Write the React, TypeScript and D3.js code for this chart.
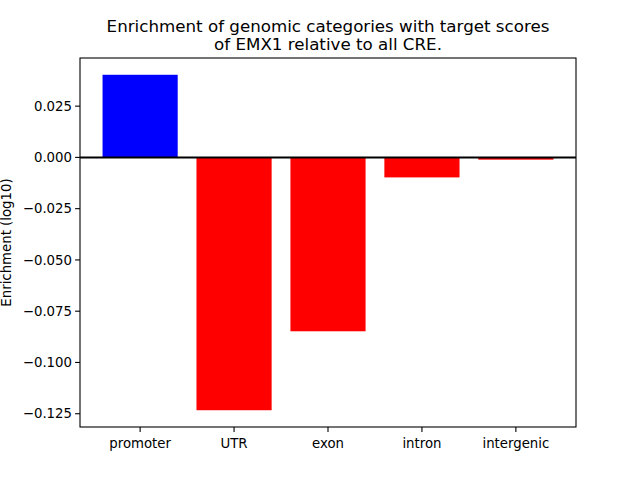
import React from "react";
import * as d3 from "d3";

const categories = ["promoter", "UTR", "exon", "intron", "intergenic"];
const values = [0.0403, -0.1233, -0.0848, -0.00975, -0.0011];
const yTicks = [0.025, 0.0, -0.025, -0.05, -0.075, -0.1, -0.125];
const titleLines = ["Enrichment of genomic categories with target scores", "of EMX1 relative to all CRE."];
const yLabel = "Enrichment (log10)";

export default function App() {
  const W = 640, H = 480;
  const left = 80, right = 576, top = 58, bottom = 427;
  const x = d3.scaleLinear().domain([-0.64, 4.64]).range([left, right]);
  const ymin = d3.min(values)!, ymax = d3.max(values)!;
  const pad = (ymax - ymin) * 0.05;
  const y = d3.scaleLinear().domain([ymin - pad, ymax + pad]).range([bottom, top]);
  const bw = 0.8;
  const font = "DejaVu Sans";
  const fmt = (v: number) => {
    const s = v.toFixed(3);
    return v < -1e-9 ? "\u2212" + s.slice(1) : Math.abs(v) < 1e-9 ? "0.000" : s;
  };
  return (
    <svg width={W} height={H} style={{ position: "absolute", left: 0, top: 0, background: "#fff" }} fontFamily={font}>
      <rect x={0} y={0} width={W} height={H} fill="#fff" />
      {values.map((v, i) => (
        <rect
          key={categories[i]}
          x={x(i - bw / 2)}
          width={x(i + bw / 2) - x(i - bw / 2)}
          y={y(Math.max(0, v))}
          height={Math.abs(y(v) - y(0))}
          fill={v >= 0 ? "#0000ff" : "#ff0000"}
        />
      ))}
      <line x1={left} x2={right} y1={y(0)} y2={y(0)} stroke="#000" strokeWidth={2} />
      <rect x={left} y={top} width={right - left} height={bottom - top} fill="none" stroke="#000" strokeWidth={1.1} />
      {yTicks.map((t) => (
        <g key={t}>
          <line x1={left - 4.9} x2={left} y1={y(t)} y2={y(t)} stroke="#000" strokeWidth={1.1} />
          <text x={left - 8} y={y(t)} dy="0.35em" textAnchor="end" fontSize={13.3} fill="#000">{fmt(t)}</text>
        </g>
      ))}
      {categories.map((c, i) => (
        <g key={c}>
          <line x1={x(i)} x2={x(i)} y1={bottom} y2={bottom + 4.9} stroke="#000" strokeWidth={1.1} />
          <text x={x(i)} y={bottom + 21} textAnchor="middle" fontSize={13.3} fill="#000">{c}</text>
        </g>
      ))}
      <text transform={`translate(11,${(top + bottom) / 2}) rotate(-90)`} textAnchor="middle" fontSize={13.3} fill="#000">{yLabel}</text>
      {titleLines.map((l, i) => (
        <text key={i} x={(left + right) / 2} y={32 + i * 18} textAnchor="middle" fontSize={16.7} fill="#000">{l}</text>
      ))}
    </svg>
  );
}
